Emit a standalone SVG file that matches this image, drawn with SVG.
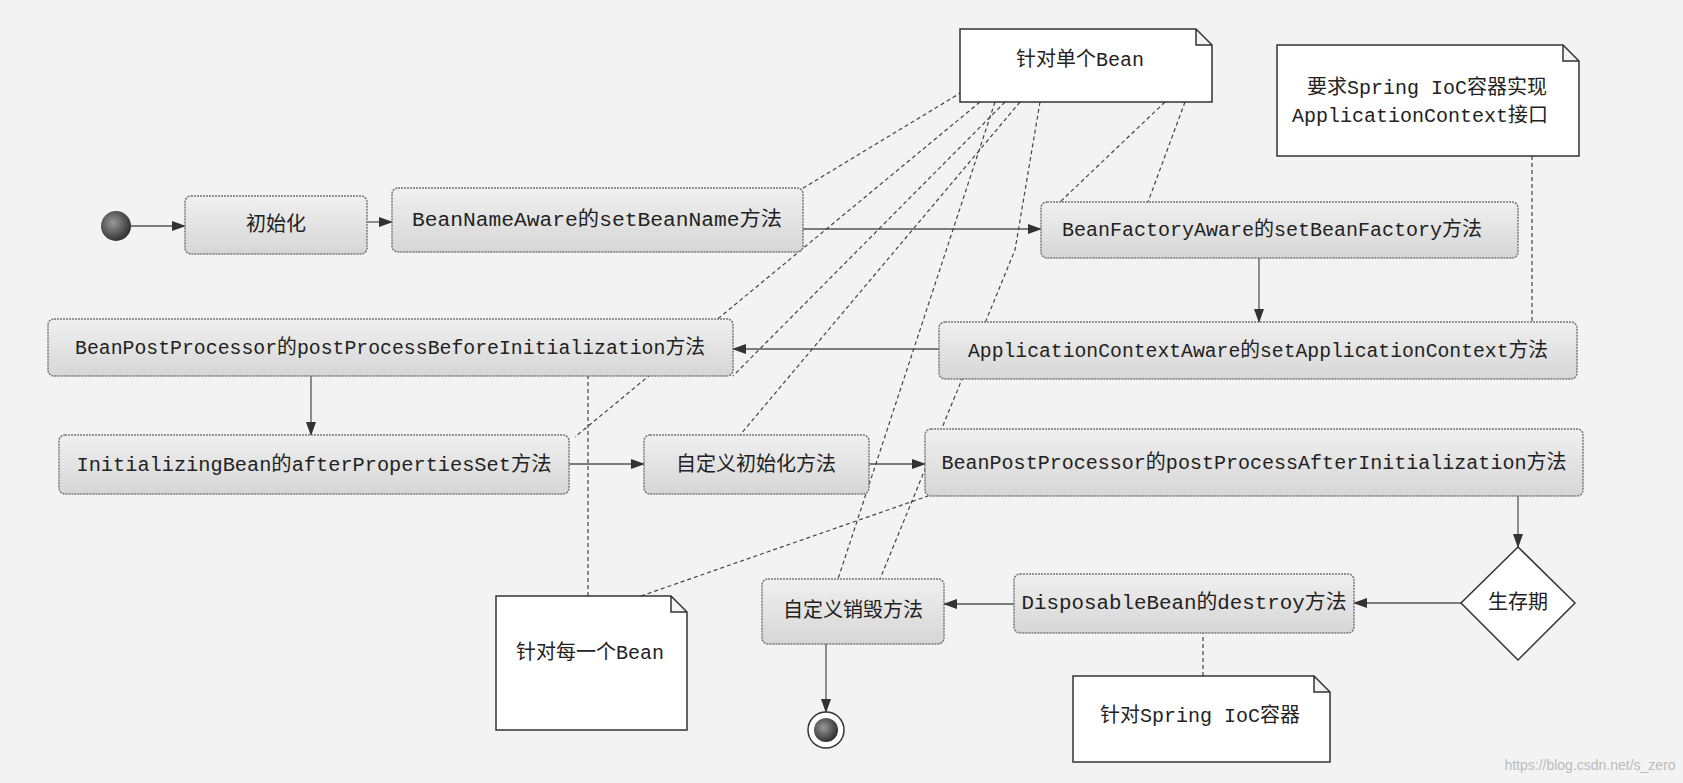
<svg xmlns="http://www.w3.org/2000/svg" width="1683" height="783" viewBox="0 0 1683 783">
<defs>
<linearGradient id="g" x1="0" y1="0" x2="0" y2="1"><stop offset="0" stop-color="#f0f0f0"/><stop offset="1" stop-color="#d6d6d6"/></linearGradient>
<radialGradient id="dot" cx="0.4" cy="0.4" r="0.6"><stop offset="0" stop-color="#999"/><stop offset="1" stop-color="#333"/></radialGradient>
<marker id="a" markerWidth="14" markerHeight="10" refX="13" refY="5" orient="auto" markerUnits="userSpaceOnUse"><path d="M0,0 L14,5 L0,10 Z" fill="#333"/></marker>
<style>
.box{fill:url(#g);stroke:#777;stroke-width:1.5;stroke-dasharray:2 1}
.note{fill:#fff;stroke:#333;stroke-width:1.5}
.t{font-family:"Liberation Mono","Noto Sans CJK SC",monospace;font-size:20px;fill:#222;text-anchor:middle;dominant-baseline:central}
.flow{fill:none;stroke:#555;stroke-width:1.3;marker-end:url(#a)}
.dash{fill:none;stroke:#444;stroke-width:1.2;stroke-dasharray:4 3}
</style>
</defs>
<rect width="1683" height="783" fill="#f3f3f3"/>
<g id="connectors">
<path class="flow" d="M131,226 H185"/>
<path class="flow" d="M367,222 H392"/>
<path class="flow" d="M803,229 H1041"/>
<path class="flow" d="M1259,258 V322"/>
<path class="flow" d="M939,349 H733"/>
<path class="flow" d="M311,376 V435"/>
<path class="flow" d="M569,464 H644"/>
<path class="flow" d="M869,464 H925"/>
<path class="flow" d="M1518,496 V547"/>
<path class="flow" d="M1461,603 H1354"/>
<path class="flow" d="M1014,604 H944"/>
<path class="flow" d="M826,644 V712"/>
<path class="dash" d="M1532,156 V322"/>
<path class="dash" d="M588,596 V376"/>
<path class="dash" d="M641,596 L928,496"/>
<path class="dash" d="M1203,676 V633"/>
<path class="dash" d="M962,92 L800,190"/>
<path class="dash" d="M980,102 L575,437"/>
<path class="dash" d="M995,102 L838,579"/>
<path class="dash" d="M1005,102 L733,376"/>
<path class="dash" d="M1020,102 L740,435"/>
<path class="dash" d="M1040,102 L1015,250 L880,579"/>
<path class="dash" d="M1165,102 L1060,202"/>
<path class="dash" d="M1185,102 L1148,202"/>
</g>
<g id="start"><circle cx="116" cy="226" r="15" fill="url(#dot)"/></g>
<g id="init"><rect class="box" x="185" y="196" width="182" height="58" rx="6"/><text class="t" x="276" y="225">初始化</text></g>
<g id="beanName"><rect class="box" x="392" y="188" width="411" height="64" rx="6"/><text class="t" x="597" y="220" textLength="370" lengthAdjust="spacingAndGlyphs">BeanNameAware的setBeanName方法</text></g>
<g id="noteSingle"><path class="note" d="M960,29 H1196 L1212,45 V102 H960 Z M1196,29 V45 H1212"/><text class="t" x="1080" y="60">针对单个Bean</text></g>
<g id="noteReq"><path class="note" d="M1277,45 H1563 L1579,61 V156 H1277 Z M1563,45 V61 H1579"/><text class="t" x="1427" y="88">要求Spring IoC容器实现</text><text class="t" x="1420" y="116">ApplicationContext接口</text></g>
<g id="beanFactory"><rect class="box" x="1041" y="202" width="477" height="56" rx="6"/><text class="t" x="1272" y="230" textLength="420" lengthAdjust="spacingAndGlyphs">BeanFactoryAware的setBeanFactory方法</text></g>
<g id="appCtx"><rect class="box" x="939" y="322" width="638" height="57" rx="6"/><text class="t" x="1258" y="351" textLength="580" lengthAdjust="spacingAndGlyphs">ApplicationContextAware的setApplicationContext方法</text></g>
<g id="before"><rect class="box" x="48" y="319" width="685" height="57" rx="6"/><text class="t" x="390" y="348" textLength="630" lengthAdjust="spacingAndGlyphs">BeanPostProcessor的postProcessBeforeInitialization方法</text></g>
<g id="initBean"><rect class="box" x="59" y="435" width="510" height="59" rx="6"/><text class="t" x="314" y="465" textLength="475" lengthAdjust="spacingAndGlyphs">InitializingBean的afterPropertiesSet方法</text></g>
<g id="customInit"><rect class="box" x="644" y="435" width="225" height="59" rx="6"/><text class="t" x="756" y="465">自定义初始化方法</text></g>
<g id="after"><rect class="box" x="925" y="429" width="658" height="67" rx="6"/><text class="t" x="1254" y="463" textLength="625" lengthAdjust="spacingAndGlyphs">BeanPostProcessor的postProcessAfterInitialization方法</text></g>
<g id="life"><path d="M1518,547 L1575,603 L1518,660 L1461,603 Z" fill="#fff" stroke="#333" stroke-width="1.5"/><text class="t" x="1518" y="603">生存期</text></g>
<g id="dispose"><rect class="box" x="1014" y="574" width="340" height="59" rx="6"/><text class="t" x="1184" y="603" textLength="325" lengthAdjust="spacingAndGlyphs">DisposableBean的destroy方法</text></g>
<g id="customDestroy"><rect class="box" x="762" y="579" width="182" height="65" rx="6"/><text class="t" x="853" y="611">自定义销毁方法</text></g>
<g id="noteEach"><path class="note" d="M496,596 H671 L687,612 V730 H496 Z M671,596 V612 H687"/><text class="t" x="590" y="653">针对每一个Bean</text></g>
<g id="noteIoc"><path class="note" d="M1073,676 H1314 L1330,692 V762 H1073 Z M1314,676 V692 H1330"/><text class="t" x="1200" y="716">针对Spring IoC容器</text></g>
<g id="end"><circle cx="826" cy="730" r="18" fill="#fff" stroke="#333" stroke-width="1.5"/><circle cx="826" cy="730" r="12" fill="url(#dot)"/></g>
<text x="1590" y="770" font-family="Liberation Sans,sans-serif" font-size="14" fill="#bbb" text-anchor="middle">https://blog.csdn.net/s_zero</text>
</svg>
